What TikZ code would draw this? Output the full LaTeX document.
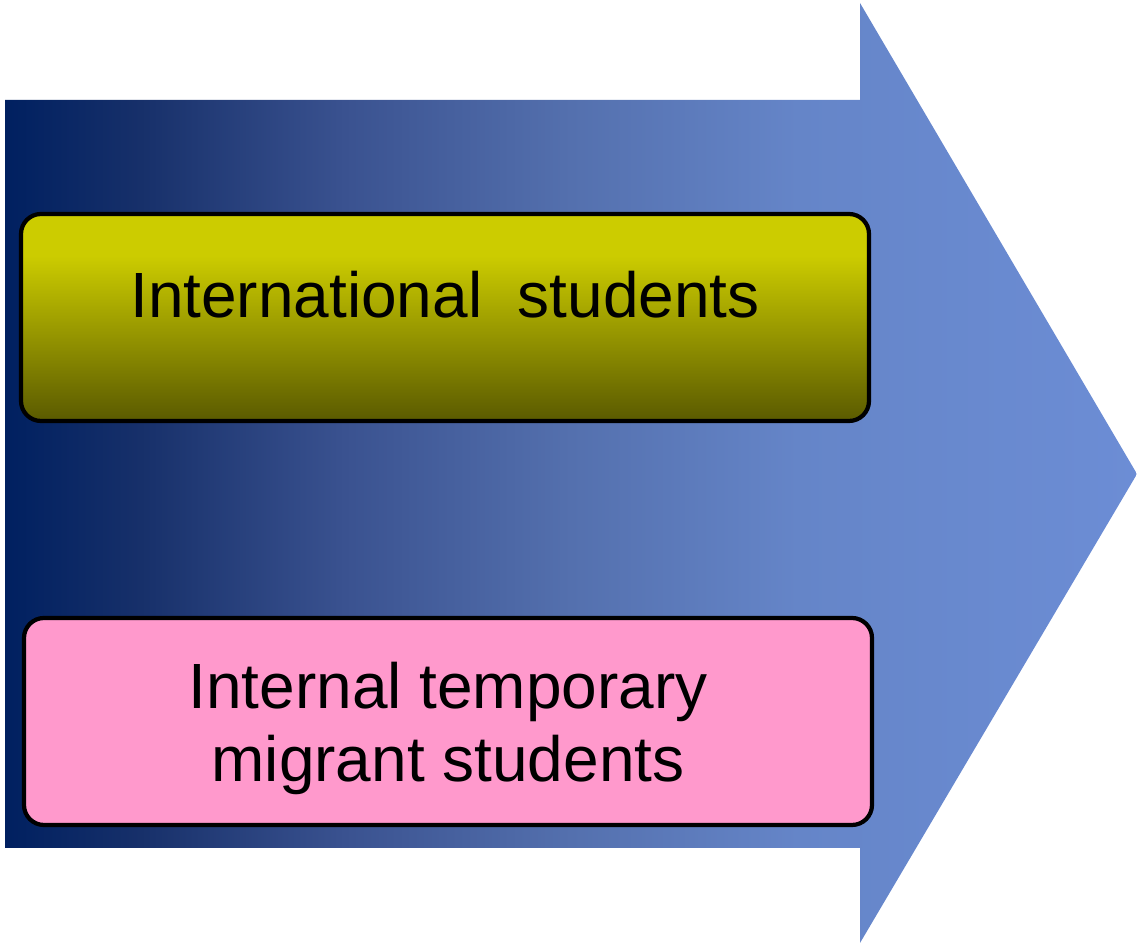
\documentclass[tikz,border=0pt]{standalone}
\usepackage{fontspec}
\setmainfont{Liberation Sans}
\usetikzlibrary{positioning}

\definecolor{navy}{HTML}{002060}
\definecolor{navymid}{HTML}{17306A}
\definecolor{slateblue}{HTML}{3A5290}
\definecolor{steelblue}{HTML}{5470AE}
\definecolor{cornblue}{HTML}{6585C8}
\definecolor{paleblue}{HTML}{6C8DD5}
\definecolor{olivedark}{HTML}{5A5A00}
\definecolor{oliveyellow}{HTML}{CCCC00}
\definecolor{candypink}{HTML}{FF99CC}

% the path covers 25bp--75bp of a 100bp shading
\pgfdeclarehorizontalshading{arrowfade}{100bp}{%
  color(0bp)=(navy); color(25bp)=(navy); color(31bp)=(navymid);
  color(40bp)=(slateblue); color(50bp)=(steelblue); color(60bp)=(cornblue);
  color(75bp)=(paleblue); color(100bp)=(paleblue)}
\pgfdeclareverticalshading{olivefade}{100bp}{%
  color(0bp)=(olivedark); color(25bp)=(olivedark);
  color(65bp)=(oliveyellow); color(100bp)=(oliveyellow)}

\begin{document}
\begin{tikzpicture}[
  font=\fontsize{18.2}{20.8}\selectfont,
  group/.style={
    draw, line width=1.2pt, rounded corners=0.2cm, align=center,
    minimum width=8.48cm, minimum height=2.07cm, inner sep=0pt
  },
]
\useasboundingbox (0,0) rectangle (11.37,-9.45);

% =========================== big arrow ====================================
\shade[shading=arrowfade]
  (0.05,-1.00) -- (8.60,-1.00) -- (8.60,-0.03) -- (11.37,-4.74)
  -- (8.60,-9.43) -- (8.60,-8.48) -- (0.05,-8.48) -- cycle;

% =========================== the two groups ===============================
\node[group, shading=olivefade, text height=12pt, text depth=12pt]
  (intl) at (4.45,-3.175) {International\ \ students};

\node[group, fill=candypink, text depth=0pt] (internal) at (4.48,-7.215)
  {Internal temporary\ \\ migrant students};

\end{tikzpicture}
\end{document}
